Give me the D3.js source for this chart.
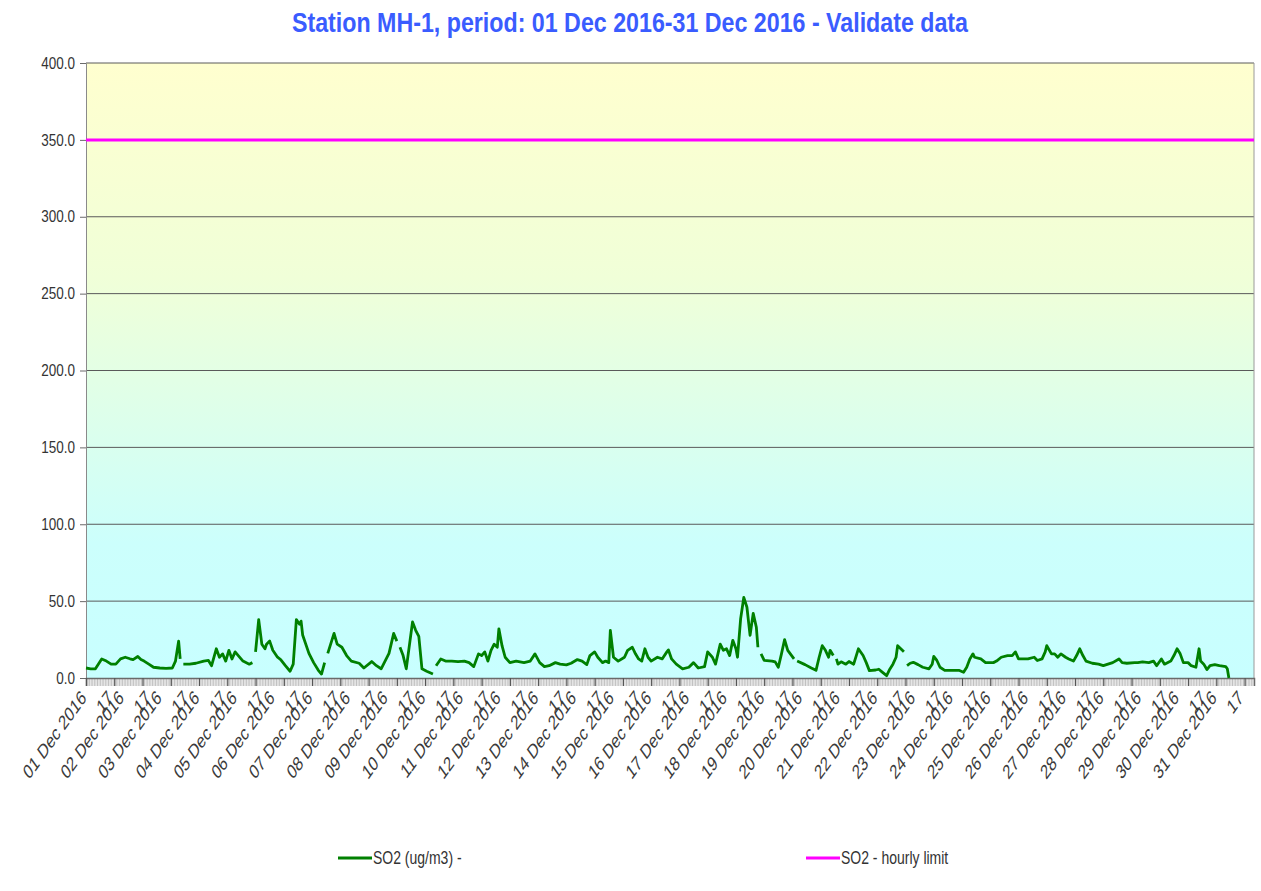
<!DOCTYPE html>
<html>
<head>
<meta charset="utf-8">
<script src="https://cdn.jsdelivr.net/npm/d3@7"></script>
<style>
body { margin: 0; background: #fff; }
text { font-family: "Liberation Sans", Arial, sans-serif; }
</style>
</head>
<body>
<svg id="chart" width="1261" height="891"></svg>
<script>
const TITLE = 'Station MH-1, period: 01 Dec 2016-31 Dec 2016 - Validate data';

// hours since 01 Dec 2016 00:00, null marks a break in the record
const obsHour = [
    0, 3, 6, 10, 13, 16, 19, 22, 25, 28, 30, 33, 35, 37, 40, 43, 47, 51, 55, 57, 59, 60, 61, 62,
    66, 70, 75, 78, 80, 83, 85, 87, 89, 91, 93, 95, 97, 100, 104, 106, 107, 108, 110, 112, 114,
    115, 117, 119, 122, 124, 127, 130, 132, 134, 136, 137, 138, 142, 145, 148, 150, 152, 153, 154,
    158, 160, 163, 166, 169, 174, 177, 182, 185, 188, 193, 196, 198, 199, 200, 202, 204, 208, 210,
    212, 214, 217, 221, 222, 223, 226, 229, 233, 237, 241, 244, 247, 250, 252, 254, 256, 258, 260,
    262, 263, 265, 267, 270, 274, 279, 283, 286, 289, 292, 295, 299, 302, 306, 309, 313, 316, 319,
    321, 324, 326, 329, 331, 333, 334, 336, 339, 343, 345, 348, 350, 352, 354, 356, 358, 360, 364,
    367, 370, 371, 373, 376, 380, 384, 387, 390, 394, 396, 399, 401, 404, 406, 408, 410, 412, 414,
    415, 417, 419, 421, 423, 425, 427, 428, 429, 430, 432, 437, 439, 441, 443, 445, 447, 451, 452,
    453, 458, 462, 465, 467, 469, 471, 473, 474, 476, 477, 478, 479, 481, 484, 486, 489, 492, 495,
    497, 499, 503, 505, 507, 510, 512, 514, 516, 517, 520, 521, 522, 523, 525, 527, 530, 533, 537,
    539, 540, 542, 544, 547, 552, 556, 559, 561, 563, 565, 566, 570, 573, 578, 580, 583, 587, 590,
    592, 594, 597, 600, 604, 606, 609, 611, 612, 615, 617, 619, 621, 624, 626, 629, 631, 633, 635,
    637, 641, 645, 648, 651, 654, 658, 660, 663, 668, 670, 673, 677, 680, 682, 685, 687, 691, 693,
    695, 697, 699, 702, 704, 707, 709, 710, 712, 714, 716, 719, 722, 726, 727, 728
];
const obsSO2 = [
    6.5, 6, 6, 12.4, 11, 9, 9, 12.4, 13.5, 12.5, 12, 14, 12, 11, 9, 7, 6.5, 6.3, 6.5, 11, 24, 12.4, null, 9,
    9, 9.6, 11, 11.4, 8, 19, 13.5, 15.7, 11, 18, 12.4, 17, 14.6, 11, 9, 10, null, 17, 38, 22, 19,
    22, 24, 18, 13.5, 12, 8, 4.4, 9, 38, 35, 37, 28, 16, 10, 5, 2.6, 10, null, 16,
    29, 22, 20, 14.6, 11, 9.6, 6.5, 10.7, 8, 6, 16, 29, 24, null, 20, 14.6, 6, 36.5, 31,
    27, 6, 4.4, 2.6, null, 8, 12.4, 11, 11, 10.6, 11, 10, 7.4, 15.7, 14.6, 17, 11, 18, 22,
    20, 32, 21, 13.5, 10, 11, 10, 11, 15.7, 10, 7.4, 8, 10, 9, 8.5, 9.6, 12, 11, 8.7,
    14.6, 17, 13.5, 10, 11, 10, 31, 13.5, 11, 13.5, 18, 20, 15.7, 12.4, 11, 19, 13.5, 11, 13.5,
    12.4, 17, 18.3, 12.4, 9, 6, 7, 10, 6.5, 7.4, 17, 13.5, 9, 22, 18, 19, 14.6, 24.5, 19,
    13.5, 38.6, 52.4, 46, 27.7, 42, 33, 20, null, 15.7, 11.4, 11, 10.5, 7, 15.7, 25, 18, 12.4, null,
    11, 8.7, 6.5, 5, 13.5, 21, 18, 13.5, 18, 14.6, null, 12.4, 9, 10.5, 9, 10.7, 9, 19, 14.6,
    10, 4.8, 5.2, 5.7, 4, 1.5, 5.7, 9, 13.5, 21, 18, 17, null, 8, 9.6, 10.2, 8.7, 7, 6,
    9, 14, 11.4, 7, 5, 5, 5, 3.7, 7, 12.4, 15.7, 13.5, 12.4, 10, 10, 11, 13.5, 14.6, 14.6,
    17, 12.4, 12.4, 12.4, 13.5, 11.4, 12.4, 17, 21, 15.7, 15.7, 13.5, 15.7, 13.5, 12.4, 11, 14.6, 19, 14.6,
    11, 9.6, 9, 8, 9, 10, 12.4, 10, 9.6, 10, 10, 10.5, 10, 11, 8, 12.4, 9, 11, 14.6,
    19, 15.7, 10, 10, 8, 7, 19, 11, 9, 5.5, 8, 8.7, 8, 7.4, 6, 0
];
const hourlyLimit = 350;

const yTicks = [0, 50, 100, 150, 200, 250, 300, 350, 400];
const dayLabels = [
    '01 Dec 2016', '02 Dec 2016', '03 Dec 2016', '04 Dec 2016', '05 Dec 2016', '06 Dec 2016',
    '07 Dec 2016', '08 Dec 2016', '09 Dec 2016', '10 Dec 2016', '11 Dec 2016', '12 Dec 2016',
    '13 Dec 2016', '14 Dec 2016', '15 Dec 2016', '16 Dec 2016', '17 Dec 2016', '18 Dec 2016',
    '19 Dec 2016', '20 Dec 2016', '21 Dec 2016', '22 Dec 2016', '23 Dec 2016', '24 Dec 2016',
    '25 Dec 2016', '26 Dec 2016', '27 Dec 2016', '28 Dec 2016', '29 Dec 2016', '30 Dec 2016',
    '31 Dec 2016'
];
const hourLabel = '17';
const legendNames = ['SO2 (ug/m3)  -', 'SO2 - hourly limit'];
const legendColors = ['#008000', '#ff00ff'];

// the reference picture is stretched vertically, text gets the same stretch
const STRETCH = 1.3;
const PLOT = { left: 86, right: 1254, top: 63, bottom: 678 };

const svg = d3.select('#chart');

const x = d3.scaleLinear().domain([0, 744]).range([PLOT.left, PLOT.right]);
const y = d3.scaleLinear().domain([0, 400]).range([PLOT.bottom, PLOT.top]);

// background gradient
const grad = svg.append('defs').append('linearGradient')
    .attr('id', 'bg').attr('x1', 0).attr('y1', 0).attr('x2', 0).attr('y2', 1);
grad.append('stop').attr('offset', '0').attr('stop-color', '#ffffcf');
grad.append('stop').attr('offset', '0.35').attr('stop-color', '#f0ffd8');
grad.append('stop').attr('offset', '0.78').attr('stop-color', '#ccfffc');
grad.append('stop').attr('offset', '1').attr('stop-color', '#c8ffff');

svg.append('rect')
    .attr('x', PLOT.left).attr('y', PLOT.top)
    .attr('width', PLOT.right - PLOT.left).attr('height', PLOT.bottom - PLOT.top)
    .attr('fill', 'url(#bg)');

// title
svg.append('text')
    .attr('transform', `translate(630,32) scale(1,1.38)`)
    .attr('text-anchor', 'middle')
    .attr('font-size', 20)
    .attr('font-weight', 'bold')
    .attr('fill', '#3a5cff')
    .attr('textLength', 676)
    .attr('lengthAdjust', 'spacingAndGlyphs')
    .text(TITLE);

// gridlines
svg.append('g')
    .selectAll('line')
    .data(yTicks.filter((d) => d > 0))
    .join('line')
    .attr('x1', PLOT.left).attr('x2', PLOT.right)
    .attr('y1', (d) => y(d)).attr('y2', (d) => y(d))
    .attr('stroke', '#5a5a5a')
    .attr('stroke-width', 1);

// y axis
const yAxis = svg.append('g')
    .attr('transform', `translate(${PLOT.left},0)`)
    .call(d3.axisLeft(y).tickValues(yTicks).tickFormat(d3.format('.1f')).tickSize(6).tickPadding(5));
yAxis.select('.domain').attr('stroke', '#8a8a8a');
yAxis.selectAll('.tick line').attr('stroke', '#6a6a6a');
yAxis.selectAll('.tick text')
    .attr('font-size', 13.5)
    .attr('fill', '#333')
    .attr('transform', `scale(1,${STRETCH - 0.1})`);

// right border
svg.append('line')
    .attr('x1', PLOT.right).attr('x2', PLOT.right)
    .attr('y1', PLOT.top).attr('y2', PLOT.bottom)
    .attr('stroke', '#9a9a9a');

// x axis: hourly minor ticks make the grey band under the plot
const xMinor = svg.append('g')
    .attr('transform', `translate(0,${PLOT.bottom})`)
    .call(d3.axisBottom(x).tickValues(d3.range(0, 745)).tickSize(8).tickFormat(''));
xMinor.select('.domain').remove();
xMinor.selectAll('.tick line').attr('stroke', '#b0b0b0').attr('stroke-width', 0.8);

const xMajor = svg.append('g')
    .attr('transform', `translate(0,${PLOT.bottom})`)
    .call(d3.axisBottom(x).tickValues(d3.range(0, 745, 18)).tickSize(8).tickFormat(''));
xMajor.select('.domain').attr('stroke', '#6a6a6a').attr('stroke-width', 1.5);
xMajor.selectAll('.tick line').attr('stroke', '#555').attr('stroke-width', 1.2);

function rotateLabels(g) {
    g.select('.domain').remove();
    g.selectAll('.tick line').remove();
    g.selectAll('.tick text')
        .attr('x', 0).attr('y', 0).attr('dy', '0.35em')
        .attr('text-anchor', 'end')
        .attr('font-size', 14.5)
        .attr('fill', '#3a3a3a')
        .attr('transform', `translate(-3,16) scale(1,${STRETCH + 0.1}) rotate(-45)`);
}

const dayHours = dayLabels.map((_, i) => i * 24);
svg.append('g')
    .attr('transform', `translate(0,${PLOT.bottom})`)
    .call(d3.axisBottom(x).tickValues(dayHours).tickFormat((d, i) => dayLabels[i]))
    .call(rotateLabels);

svg.append('g')
    .attr('transform', `translate(0,${PLOT.bottom})`)
    .call(d3.axisBottom(x).tickValues(dayHours.map((h) => h + 17)).tickFormat(() => hourLabel))
    .call(rotateLabels);

// hourly limit
svg.append('line')
    .attr('x1', PLOT.left).attr('x2', PLOT.right)
    .attr('y1', y(hourlyLimit)).attr('y2', y(hourlyLimit))
    .attr('stroke', legendColors[1])
    .attr('stroke-width', 3);

// SO2 series
const series = obsHour.map((h, i) => [h, obsSO2[i]]);
const line = d3.line()
    .defined((d) => d[1] !== null)
    .x((d) => x(d[0]))
    .y((d) => y(d[1]));

svg.append('path')
    .datum(series)
    .attr('d', line)
    .attr('fill', 'none')
    .attr('stroke', legendColors[0])
    .attr('stroke-width', 2.8)
    .attr('stroke-linejoin', 'round');

// legend
const legendX = [338, 806];
const legend = svg.append('g')
    .selectAll('g')
    .data(legendNames)
    .join('g')
    .attr('transform', (d, i) => `translate(${legendX[i]},858)`);
legend.append('line')
    .attr('x1', 0).attr('x2', 34)
    .attr('stroke', (d, i) => legendColors[i])
    .attr('stroke-width', 3);
legend.append('text')
    .attr('transform', `translate(35,0) scale(1,${STRETCH})`)
    .attr('dy', '0.35em')
    .attr('font-size', 14)
    .attr('fill', '#333')
    .text((d) => d);
</script>
</body>
</html>
